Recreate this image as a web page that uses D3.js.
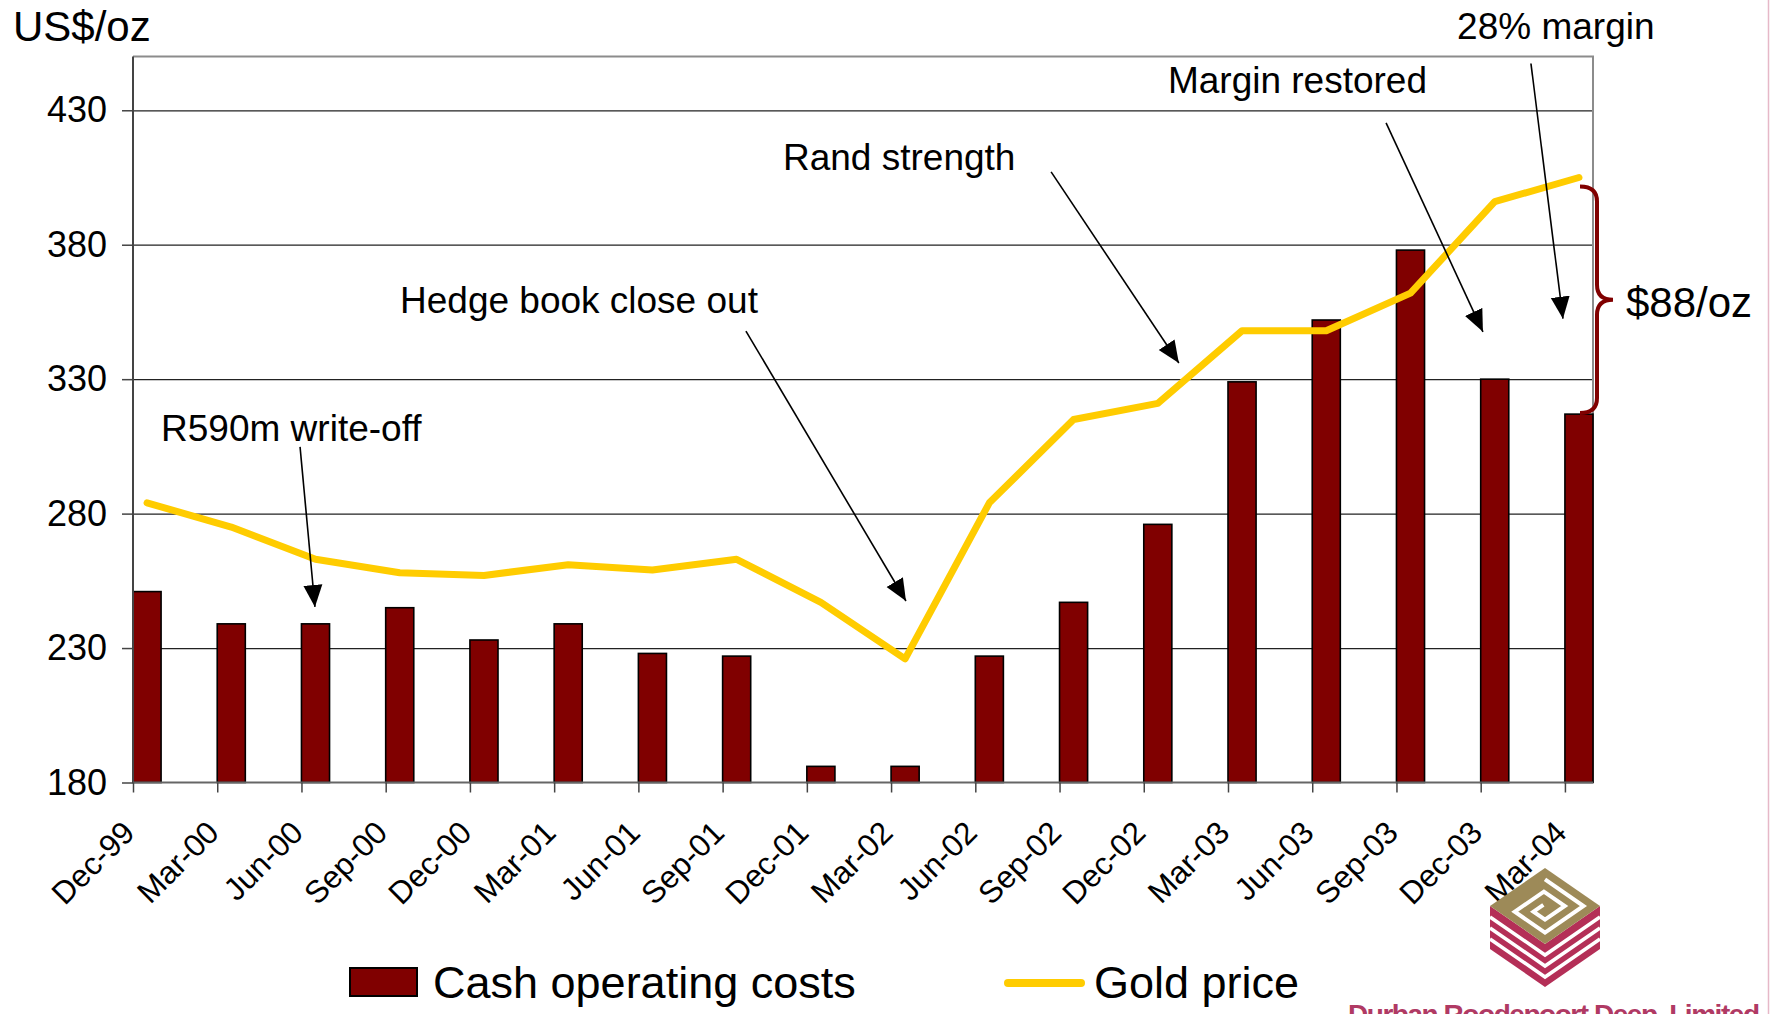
<!DOCTYPE html>
<html>
<head>
<meta charset="utf-8">
<script src="https://cdn.jsdelivr.net/npm/d3@7"></script>
<style>
  body { margin: 0; background: #fff; }
  svg { display: block; font-family: "Liberation Sans", Arial, sans-serif; }
</style>
</head>
<body>
<svg id="chart" width="1770" height="1014"></svg>
<script>
var quarters = ["Dec-99", "Mar-00", "Jun-00", "Sep-00", "Dec-00", "Mar-01", "Jun-01", "Sep-01", "Dec-01",
                "Mar-02", "Jun-02", "Sep-02", "Dec-02", "Mar-03", "Jun-03", "Sep-03", "Dec-03", "Mar-04"];
var cashCosts = [251, 239, 239, 245, 233, 239, 228, 227, 186, 186, 227, 247, 276, 329, 352, 378, 330, 317];
var goldPrice = [284, 275, 263, 258, 257, 261, 259, 263, 247, 226, 284, 315, 321, 348, 348, 362, 396, 405];
var yTicks = [180, 230, 280, 330, 380, 430];
var yDomain = [180, 450];

// date axis in months, quarterly points, one month wide bars
var plot = {left: 133, right: 1593, top: 56.5, bottom: 782.5};
var nMonths = (quarters.length - 1) * 3 + 1;

var svg = d3.select("#chart");

var x = d3.scaleLinear()
    .domain([0, nMonths])
    .range([plot.left, plot.right]);

var y = d3.scaleLinear()
    .domain(yDomain)
    .range([plot.bottom, plot.top]);

// gridlines
svg.append("g")
    .attr("transform", "translate(" + plot.left + ",0)")
    .call(d3.axisLeft(y).tickValues(yTicks.slice(1)).tickSize(-(plot.right - plot.left)).tickFormat(""))
    .call(function(g) { g.select(".domain").remove(); })
    .selectAll("line")
    .attr("stroke", "#222")
    .attr("stroke-width", 1.2);

// frame top and right
svg.append("path")
    .attr("d", "M" + plot.left + "," + plot.top + "H" + plot.right + "V" + plot.bottom)
    .attr("fill", "none")
    .attr("stroke", "#8c8c8c")
    .attr("stroke-width", 2);

// bars
svg.selectAll("rect.bar")
  .data(cashCosts)
  .join("rect")
    .attr("class", "bar")
    .attr("x", function(d, i) { return x(i * 3); })
    .attr("width", x(1) - x(0))
    .attr("y", function(d) { return y(d); })
    .attr("height", function(d) { return y(yDomain[0]) - y(d); })
    .attr("fill", "#800000")
    .attr("stroke", "#000")
    .attr("stroke-width", 1.6);

// left axis
var yAxis = svg.append("g")
    .attr("transform", "translate(" + plot.left + ",0)")
    .call(d3.axisLeft(y).tickValues(yTicks).tickSize(11).tickPadding(15));
yAxis.select(".domain").attr("stroke", "#444").attr("stroke-width", 2)
    .attr("d", "M0," + plot.bottom + "V" + plot.top);
yAxis.selectAll("line").attr("stroke", "#444").attr("stroke-width", 1.5);
yAxis.selectAll("text").attr("font-size", 36).attr("fill", "#000")
    .attr("font-family", "Liberation Sans, Arial, sans-serif");

// bottom axis
var xAxis = svg.append("g")
    .attr("transform", "translate(0," + plot.bottom + ")")
    .call(d3.axisBottom(x)
        .tickValues(d3.range(0, nMonths, 3))
        .tickFormat(function(m) { return quarters[m / 3]; })
        .tickSize(10));
xAxis.select(".domain").attr("stroke", "#666").attr("stroke-width", 2)
    .attr("d", "M" + plot.left + ",0H" + plot.right);
xAxis.selectAll("line").attr("stroke", "#444").attr("stroke-width", 1.5);
xAxis.selectAll("text")
    .attr("font-size", 31.5)
    .attr("font-family", "Liberation Sans, Arial, sans-serif")
    .attr("fill", "#000")
    .attr("text-anchor", "end")
    .attr("x", 0).attr("y", 0).attr("dy", 0)
    .attr("transform", "translate(3,52) rotate(-45)");

// gold price line
var line = d3.line()
    .x(function(d, i) { return x(i * 3 + 0.5); })
    .y(function(d) { return y(d); });

svg.append("path")
    .datum(goldPrice)
    .attr("d", line)
    .attr("fill", "none")
    .attr("stroke", "#ffcc00")
    .attr("stroke-width", 7)
    .attr("stroke-linejoin", "round")
    .attr("stroke-linecap", "round");

// annotations (positions in month / value units)
svg.append("defs").append("marker")
    .attr("id", "head")
    .attr("viewBox", "0 -10 22 20")
    .attr("refX", 22).attr("refY", 0)
    .attr("markerWidth", 22).attr("markerHeight", 20)
    .attr("markerUnits", "userSpaceOnUse")
    .attr("orient", "auto")
  .append("path")
    .attr("d", "M0,-9.5L22,0L0,9.5Z")
    .attr("fill", "#000");

var notes = [
  {text: "R590m write-off",      tx: 1.0,   ty: 307.0, from: [5.95, 304.8],  to: [6.48, 245.3]},
  {text: "Hedge book close out", tx: 9.51,  ty: 354.6, from: [21.83, 347.9], to: [27.53, 247.5]},
  {text: "Rand strength",        tx: 23.15, ty: 407.8, from: [32.70, 407.1], to: [37.25, 336.0]},
  {text: "Margin restored",      tx: 36.86, ty: 436.6, from: [44.63, 425.3], to: [48.08, 347.6]},
  {text: "28% margin",           tx: 47.16, ty: 456.4, from: [49.79, 447.4], to: [50.93, 352.5]}
];

svg.selectAll("text.note")
  .data(notes)
  .join("text")
    .attr("class", "note")
    .attr("x", function(d) { return x(d.tx); })
    .attr("y", function(d) { return y(d.ty); })
    .attr("font-size", 37)
    .text(function(d) { return d.text; });

svg.selectAll("line.arrow")
  .data(notes)
  .join("line")
    .attr("class", "arrow")
    .attr("x1", function(d) { return x(d.from[0]); })
    .attr("y1", function(d) { return y(d.from[1]); })
    .attr("x2", function(d) { return x(d.to[0]); })
    .attr("y2", function(d) { return y(d.to[1]); })
    .attr("stroke", "#000")
    .attr("stroke-width", 1.6)
    .attr("marker-end", "url(#head)");

svg.append("text")
    .attr("x", 13)
    .attr("y", 41)
    .attr("font-size", 42)
    .text("US$/oz");

// brace showing the margin on the last quarter
var last = quarters.length - 1;
var bTop = y(goldPrice[last]) + 9, bBot = y(cashCosts[last]) - 1;
var bMid = (bTop + bBot) / 2;
var bx0 = plot.right - 13, bx1 = plot.right + 4, bx2 = plot.right + 20, r = 15;
svg.append("path")
    .attr("d", "M" + bx0 + "," + bTop +
               "Q" + bx1 + "," + bTop + " " + bx1 + "," + (bTop + r) +
               "L" + bx1 + "," + (bMid - r) +
               "Q" + bx1 + "," + bMid + " " + bx2 + "," + bMid +
               "Q" + bx1 + "," + bMid + " " + bx1 + "," + (bMid + r) +
               "L" + bx1 + "," + (bBot - r) +
               "Q" + bx1 + "," + bBot + " " + bx0 + "," + bBot)
    .attr("fill", "none")
    .attr("stroke", "#800000")
    .attr("stroke-width", 4);

svg.append("text")
    .attr("x", plot.right + 33)
    .attr("y", bMid + 17)
    .attr("font-size", 42)
    .text("$88/oz");

// legend
var legend = svg.append("g");
legend.append("rect")
    .attr("x", 350).attr("y", 968)
    .attr("width", 67).attr("height", 28)
    .attr("fill", "#800000")
    .attr("stroke", "#000")
    .attr("stroke-width", 2);
legend.append("text")
    .attr("x", 433).attr("y", 998)
    .attr("font-size", 45)
    .text("Cash operating costs");
legend.append("line")
    .attr("x1", 1008).attr("x2", 1081)
    .attr("y1", 983).attr("y2", 983)
    .attr("stroke", "#ffcc00")
    .attr("stroke-width", 8)
    .attr("stroke-linecap", "round");
legend.append("text")
    .attr("x", 1094).attr("y", 998)
    .attr("font-size", 45)
    .text("Gold price");

// company logo
var logo = svg.append("g");
var lx = 1545, ly = 868, lw = 55, lh = 38, lH = 43;
var crimson = "#b42f57", olive = "#9d8a58";

logo.append("polygon")
    .attr("points", [[lx - lw, ly + lh], [lx, ly + 2 * lh], [lx + lw, ly + lh],
                     [lx + lw, ly + lh + lH], [lx, ly + 2 * lh + lH], [lx - lw, ly + lh + lH]].join(" "))
    .attr("fill", crimson);
[11, 22, 33].forEach(function(k) {
  logo.append("polyline")
      .attr("points", [[lx - lw, ly + lh + k], [lx, ly + 2 * lh + k], [lx + lw, ly + lh + k]].join(" "))
      .attr("fill", "none")
      .attr("stroke", "#fff")
      .attr("stroke-width", 3.5);
});

logo.append("polygon")
    .attr("points", [[lx, ly], [lx + lw, ly + lh], [lx, ly + 2 * lh], [lx - lw, ly + lh]].join(" "))
    .attr("fill", olive);

function rh(u, v) {
  return [lx + (u - v) * lw, ly + (u + v) * lh];
}
var maze = [[0.15, 0.15], [0.85, 0.15], [0.85, 0.85], [0.3, 0.85], [0.3, 0.32],
            [0.68, 0.32], [0.68, 0.68], [0.47, 0.68], [0.47, 0.5]];
logo.append("polyline")
    .attr("points", maze.map(function(p) { return rh(p[0], p[1]); }).join(" "))
    .attr("fill", "none")
    .attr("stroke", "#fff")
    .attr("stroke-width", 4);

svg.append("text")
    .attr("x", 1348)
    .attr("y", 1024)
    .attr("font-size", 28)
    .attr("font-weight", "bold")
    .attr("fill", "#b03a64")
    .attr("textLength", 412)
    .text("Durban Roodepoort Deep, Limited");

svg.append("line")
    .attr("x1", 1768.5).attr("x2", 1768.5)
    .attr("y1", 0).attr("y2", 1014)
    .attr("stroke", "#e6b8c8")
    .attr("stroke-width", 1.5);
</script>
</body>
</html>
